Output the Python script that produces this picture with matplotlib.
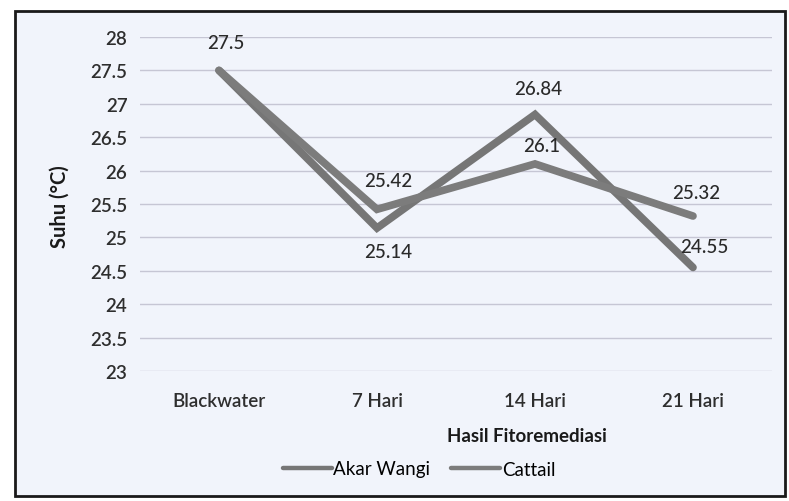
import matplotlib
matplotlib.use('Agg')
import matplotlib.pyplot as plt
from matplotlib.patches import Rectangle

categories = ['Blackwater', '7 Hari', '14 Hari', '21 Hari']
akar_wangi = [27.5, 25.14, 26.84, 24.55]
cattail = [27.5, 25.42, 26.1, 25.32]
y_ticks = [23, 23.5, 24, 24.5, 25, 25.5, 26, 26.5, 27, 27.5, 28]

plt.rcParams['font.family'] = ['Lato', 'DejaVu Sans']

fig = plt.figure(figsize=(7.89, 5.02), dpi=100)
fig.patch.set_facecolor('white')

# scanned chart box
box = Rectangle((15 / 789, 1 - 497 / 502), 770 / 789, 485 / 502,
                transform=fig.transFigure, facecolor='#f1f4fb',
                edgecolor='#1a1a1a', linewidth=2, zorder=-10)
fig.patches.append(box)

ax = fig.add_axes([140 / 789, 1 - 372 / 502, 632 / 789, 334 / 502])
ax.set_facecolor('none')

x = list(range(len(categories)))
ax.plot(x, akar_wangi, color='#767676', linewidth=5.5, solid_capstyle='round',
        solid_joinstyle='miter', label='Akar Wangi', zorder=3)
ax.plot(x, cattail, color='#7c7c7c', linewidth=5.5, solid_capstyle='round',
        solid_joinstyle='miter', label='Cattail', zorder=3)

ax.set_xlim(-0.5, 3.5)
ax.set_ylim(23, 28)
ax.set_yticks(y_ticks)
ax.set_yticklabels([f'{t:g}' for t in y_ticks])
ax.set_xticks(x)
ax.set_xticklabels(categories)
ax.grid(axis='y', color='#c6c6d4', linewidth=1)
ax.set_axisbelow(True)
for s in ax.spines.values():
    s.set_visible(False)
ax.tick_params(length=0, labelsize=13.5, colors='#2e2e2e')
ax.tick_params(axis='y', pad=9)
ax.tick_params(axis='x', pad=15)
for lbl in ax.get_xticklabels() + ax.get_yticklabels():
    lbl.set_fontweight('semibold')

# data labels
offsets_aw = [(0, 18), (8, -17), (2, 19), (8, 15)]
offsets_ct = [(5, 20), (8, 21), (5, 13), (2, 17)]
for i, v in enumerate(akar_wangi):
    if i == 0:
        continue
    ax.annotate(f'{v:g}', (i, v), textcoords='offset points', xytext=offsets_aw[i],
                ha='center', va='center', fontsize=13.5, color='#2a2a2a',
                fontweight='medium')
for i, v in enumerate(cattail):
    ax.annotate(f'{v:g}', (i, v), textcoords='offset points', xytext=offsets_ct[i],
                ha='center', va='center', fontsize=13.5, color='#2a2a2a',
                fontweight='medium')

ax.set_ylabel('Suhu (°C)', fontsize=14.5, fontweight='bold', color='#1a1a1a',
              ha='center', va='center')
ax.yaxis.set_label_coords((60 - 140) / 632, (372 - 207) / 334)
ax.set_xlabel('Hasil Fitoremediasi', fontsize=13.5, fontweight='bold',
              color='#1a1a1a', ha='center', va='center')
ax.xaxis.set_label_coords((527 - 140) / 632, (372 - 437) / 334)

leg = ax.legend(loc='center', bbox_to_anchor=((419 - 140) / 632, (372 - 470) / 334),
                ncol=2, frameon=False, fontsize=13.5, handlelength=2.6,
                handletextpad=0.1, columnspacing=1.1)
for h in leg.get_lines():
    h.set_linewidth(3.2)

fig.savefig('out.png', dpi=100)
